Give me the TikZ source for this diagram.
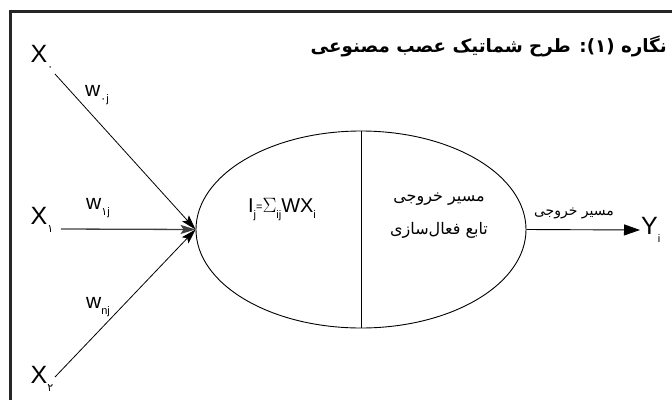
\documentclass[tikz,border=0pt]{standalone}
\usepackage{fontspec}
\setmainfont{Liberation Sans}
\newfontfamily\fafont[Script=Arabic]{DejaVu Sans}
\TeXXeTstate=1
\usetikzlibrary{arrows.meta,shapes.geometric}

% subscript set lower than the base letter
\newcommand{\lowsub}[2][11]{\raisebox{-0.3em}{\fontsize{#1}{#1}\selectfont #2}}
\newcommand{\fa}[1]{{\fafont\beginR #1\endR}}
\newcommand{\fadig}[1]{{\fafont #1}}

\begin{document}
\begin{tikzpicture}[x=1pt,y=-1pt,
  frameline/.style={line width=2.6pt,draw=black!85},
  bigletter/.style={inner sep=1pt,font=\fontsize{25}{25}\selectfont},
  weightlbl/.style={inner sep=0pt,font=\fontsize{21}{21}\selectfont},
  inarrow/.style={line width=0.8pt,-{Stealth[length=15pt,width=9pt,inset=3pt]}},
  outarrow/.style={line width=0.9pt,-{Triangle[length=16pt,width=11pt]}},
  fatext/.style={inner sep=0pt,font=\fontsize{16}{16}\selectfont}]

\useasboundingbox (0,0) rectangle (672,400);

% frame: top and left rules only
\draw[frameline] (672,11.5) -- (10.5,11.5) -- (10.5,400);

% title
\node[inner sep=0pt,anchor=east,font=\bfseries\fontsize{18.3}{18.3}\selectfont] (title) at (667,46)
  {\fa{نگاره (۱): طرح شماتیک عصب مصنوعی}};

% neuron body
\node[ellipse,draw,line width=0.9pt,minimum width=330pt,minimum height=197pt,inner sep=0pt] (neuron) at (361,229.5) {};
\draw[line width=0.9pt] (neuron.north) -- (neuron.south);

\node[inner sep=0pt,font=\fontsize{20}{20}\selectfont] (sum) at (282,210)
  {I\lowsub[11]{j}\raisebox{0.1em}{\fontsize{11}{11}\selectfont=}$\Sigma$\lowsub[11]{ij}WX\lowsub[11]{i}};
\node[fatext] (path1) at (439,199) {\fa{مسیر خروجی}};
\node[fatext] (act) at (439,230) {\fa{تابع فعال‌سازی}};

% inputs
\node[bigletter] (x0) at (42,58) {X\lowsub{\fadig{۰}}};
\node[bigletter] (x1) at (42,220) {X\lowsub{\fadig{۱}}};
\node[bigletter] (x2) at (42,379) {X\lowsub{\fadig{۲}}};
\coordinate (s0) at (55,74);
\coordinate (s1) at (61,229);
\coordinate (s2) at (55,377);

\node[weightlbl] (w0) at (97,95) {w\lowsub{\fadig{۰}j}};
\node[weightlbl] (w1) at (98,208) {w\lowsub{\fadig{۱}j}};
\node[weightlbl] (wn) at (98,307) {w\lowsub{nj}};

\draw[inarrow] (s0) -- (neuron.west);
\draw[inarrow] (s2) -- (neuron.west);
\draw[inarrow,line width=1.3pt,draw=black!75] (s1) -- (neuron.west);

% output
\node[bigletter,anchor=west] (y) at (640,230) {Y\lowsub{i}};
\draw[outarrow] (neuron.east) -- (y.west);
\node[fatext,font=\fontsize{14}{14}\selectfont] (path2) at (574,213) {\fa{مسیر خروجی}};

\end{tikzpicture}
\end{document}
